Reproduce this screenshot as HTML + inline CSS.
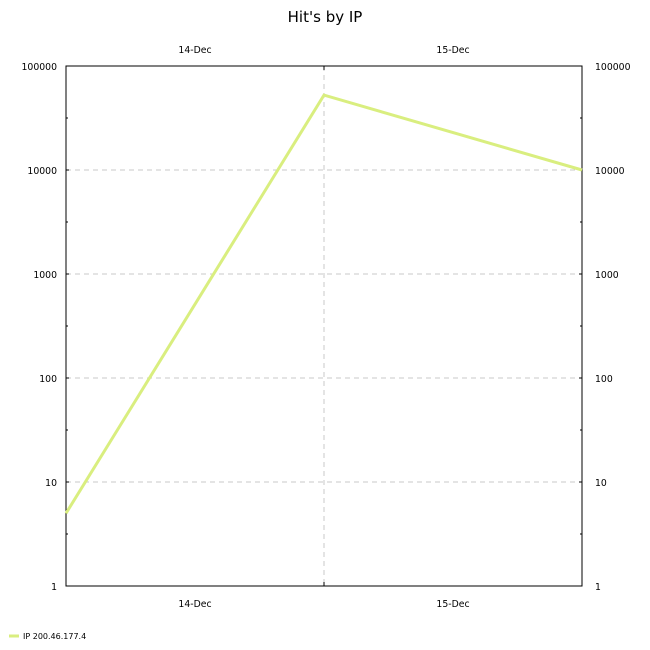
<!DOCTYPE html>
<html><head><meta charset="utf-8"><style>body{margin:0;background:#fff}svg{display:block;font-family:"DejaVu Sans","Liberation Sans",sans-serif}</style></head>
<body>
<svg width="650" height="650" id="c">
<text x="325" y="22" text-anchor="middle" font-size="15">Hit's by IP</text>
<g id="grid"></g>
<rect x="66" y="66" width="516" height="520" fill="none" stroke="#000" stroke-width="1"/>
<g id="axes" font-size="9.3"></g>
<g id="series"></g>
<g>
<line x1="9" y1="636" x2="19" y2="636" stroke="#d9ee7f" stroke-width="3"/>
<text x="23" y="639" font-size="8">IP 200.46.177.4</text>
</g>
</svg>
<script>
const categories=["14-Dec","15-Dec"];
const seriesX=[0,1,2];
const seriesValues=[5,52500,10000];
const tickValues=[1,10,100,1000,10000,100000];
const tickLabels=["1","10","100","1000","10000","100000"];
const L=66,R=582,T=66,B=586;
const xs=i=>L+(R-L)*i/2;
const ys=v=>B-(B-T)*Math.log10(v)/5;
const ns="http://www.w3.org/2000/svg";
function mk(t,a,p){const e=document.createElementNS(ns,t);for(const k in a)e.setAttribute(k,a[k]);p.appendChild(e);return e;}
const g=document.getElementById('grid'),ax=document.getElementById('axes'),se=document.getElementById('series');
tickValues.forEach((v,i)=>{const y=ys(v);
 if(i>0&&i<5){const l=mk('line',{x1:L,x2:R,y1:y,y2:y,stroke:'#c8c8c8','stroke-dasharray':'5,4'},g);
 
 }
 const a=mk('text',{x:L-9,y:y+4,'text-anchor':'end'},ax);a.textContent=tickLabels[i];
 
 
 const b=mk('text',{x:R+13,y:y+4},ax);b.textContent=tickLabels[i];
 
 
 mk('line',{x1:L,x2:L+3,y1:y,y2:y,stroke:'#000'},ax);
 mk('line',{x1:R-3,x2:R,y1:y,y2:y,stroke:'#000'},ax);
 if(i<5){const ym=ys(v*Math.sqrt(10));mk('line',{x1:L,x2:L+2,y1:ym,y2:ym,stroke:'#000'},ax);mk('line',{x1:R-2,x2:R,y1:ym,y2:ym,stroke:'#000'},ax);}
});
const vl=mk('line',{x1:xs(1),x2:xs(1),y1:T,y2:B,stroke:'#c8c8c8','stroke-dasharray':'5,4'},g);


mk('line',{x1:xs(1),x2:xs(1),y1:T,y2:T+4,stroke:'#000'},ax);
mk('line',{x1:xs(1),x2:xs(1),y1:B-4,y2:B,stroke:'#000'},ax);
categories.forEach((c,i)=>{const x=xs(i+0.5);
 const t=mk('text',{x:x,y:53,'text-anchor':'middle'},ax);t.textContent=c;
 
 
 const b=mk('text',{x:x,y:607,'text-anchor':'middle'},ax);b.textContent=c;
 
 
});
const pl=mk('polyline',{points:seriesValues.map((v,i)=>xs(seriesX[i])+','+ys(v)).join(' '),fill:'none',stroke:'#d9ee7f','stroke-width':3},se);


</script>
</body></html>
